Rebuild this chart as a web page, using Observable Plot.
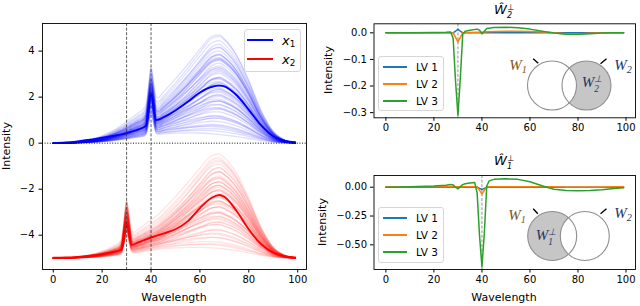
<!DOCTYPE html>
<html><head><meta charset="utf-8">
<script src="https://cdn.jsdelivr.net/npm/d3@7"></script>
<script src="https://cdn.jsdelivr.net/npm/@observablehq/plot@0.6"></script>
<style>
html,body{margin:0;padding:0;background:#fff;}
#fig{position:relative;width:640px;height:306px;overflow:hidden;font-family:"DejaVu Sans",sans-serif;color:#000;background:#fff;}
.pane{position:absolute;}
.pane svg{display:block;overflow:visible;}
.t{position:absolute;white-space:nowrap;line-height:1;transform:translate(-50%,-50%);}
.rot{transform:translate(-50%,-50%) rotate(-90deg);}
.ax{font-size:11px;}
.math{font-family:"DejaVu Sans",sans-serif;font-style:italic;}
.venn{font-family:"Liberation Serif",serif;font-style:italic;font-size:15px;}
.ss{display:inline-block;vertical-align:-0.5em;line-height:1.02;font-size:62%;text-align:left;}
.ss span{display:block;}
sub.s{font-size:68%;vertical-align:-0.3em;line-height:0;}
.lgbox{position:absolute;box-sizing:border-box;border:1px solid #d6d6d6;border-radius:3px;background:rgba(255,255,255,0.85);}
.lgline{position:absolute;height:2px;}
.lglab{position:absolute;white-space:nowrap;line-height:1;transform:translateY(-50%);}
</style></head><body><div id="fig"></div>
<script>
// ---------- data: left panel (spectra as loadings on two broad bands + a sharp band) ----------
const G = [0,5,10,15,20,25,27,28,29,30,31,32,33,35,37,38,39,40,41,42,43,45,50,55,60,65,68,70,75,80,85,90,95,99];
const shapeA = [0,0.01,0.03,0.07,0.14,0.25,0.31,0.34,0.37,0.41,0.44,0.48,0.51,0.58,0.65,0.69,0.72,0.76,0.79,0.82,0.85,0.9,0.97,1.0,0.98,0.9,0.83,0.78,0.63,0.45,0.25,0.1,0.03,0.01];
const shapeB = [0,0,0,0,0,0,0,0,0,0,0,0,0,0,0,0,0,0,0,0.005,0.01,0.05,0.2,0.4,0.65,0.92,1.0,0.98,0.85,0.6,0.3,0.1,0.02,0];
const spike30 = [0,0,0,0,0,0,0,0.08,0.55,1,0.55,0.08,0,0,0,0,0,0,0,0,0,0,0,0,0,0,0,0,0,0,0,0,0,0];
const spike40 = [0,0,0,0,0,0,0,0,0,0,0,0,0,0,0,0.08,0.55,1,0.55,0.08,0,0,0,0,0,0,0,0,0,0,0,0,0,0];

const blueA = [0.45,0.5,0.55,0.6,0.6,0.65,0.7,0.7,0.75,0.8, 0.8,0.85,0.85,0.9,0.9,0.95,0.95,1.0,1.0,1.0, 1.05,1.05,1.1,1.1,1.1,1.15,1.15,1.2,1.2,1.25, 1.25,1.3,1.3,1.35,1.4,1.4,1.45,1.5,1.5,1.55, 1.6,1.6,1.6,1.65,1.7,1.75,1.8,1.9,2.0,2.1, 2.3,0.5,0.6,0.7,0.9,1.0,1.2,1.3,0.8,1.1];
const blueB = [0.0,0.1,0.3,0.2,0.6,0.4,0.9,0.5,1.2,0.7, 1.0,1.4,0.8,1.1,1.6,1.3,0.9,1.8,1.5,1.2, 2.0,1.4,1.7,2.2,1.3,1.9,1.6,2.3,1.8,2.0, 1.5,2.4,2.1,1.7,2.5,2.2,2.4,2.6,2.0,2.4, 2.4,2.5,2.3,2.5,2.6,2.7,2.8,2.6,2.8,2.9, 2.8,0.2,0.3,0.6,0.8,1.0,1.4,1.6,0.5,1.0];
const blueSpike = [1.0,1.3,0.9,1.6,1.2,1.8,1.1,1.4,1.5,0.8, 1.7,1.3,1.0,1.9,1.4,1.2,1.6,1.1,1.5,1.3, 1.8,0.9,1.4,1.7,1.2,1.5,1.0,1.6,1.3,1.9, 1.1,1.4,1.7,1.2,1.5,1.8,1.0,1.6,1.3,1.4, 1.7,1.1,1.5,1.9,1.2,1.6,1.4,1.3,1.8,1.5, 1.5,0.9,1.2,1.4,1.1,1.6,1.3,1.5,1.0,1.4];

const redOffset = -5;
const redA = [0.45,0.5,0.55,0.6,0.65,0.7,0.7,0.75,0.8,0.8, 0.85,0.9,0.9,0.95,0.95,1.0,1.0,1.0,1.05,1.05, 1.1,1.1,1.15,1.15,1.2,1.2,1.25,1.25,1.3,1.3, 1.35,1.4,1.4,1.45,1.5,1.5,1.55,1.6,1.65,1.7, 1.8,1.9,2.0,2.2,0.6,0.7,0.8,0.9,1.0,1.1, 1.2,1.3,1.4,0.75,0.95,1.05,1.15,1.25,1.35,1.6];
const redB = [0.05,0.2,0.1,0.4,0.7,0.3,1.0,0.6,1.3,0.9, 1.1,1.5,0.7,1.2,1.7,1.4,2.0,1.0,1.6,2.1, 1.8,1.3,2.2,1.7,2.0,1.5,2.3,1.9,2.1,2.5, 1.8,2.3,2.6,2.1,2.5,2.7,2.2,2.6,2.4,2.8, 2.6,2.7,2.7,2.7,0.2,0.5,0.8,1.0,1.2,1.5, 1.7,2.0,2.0,0.4,0.9,1.1,1.4,1.6,2.2,2.2];
const redSpike = [1.1,0.9,1.4,0.8,1.2,1.6,1.0,1.5,1.2,1.3, 0.9,1.7,1.1,1.4,1.6,1.0,1.3,1.2,1.5,1.8, 1.1,1.4,1.6,1.2,1.3,1.7,1.0,1.5,1.4,1.2, 1.6,1.3,1.8,1.1,1.5,1.7,1.4,1.6,1.3,1.8, 1.5,1.7,1.6,1.6,0.8,1.0,0.9,1.2,1.3,1.1, 1.4,1.2,1.5,0.9,1.1,1.3,1.4,1.2,1.6,1.5];

const blueMeanX = [0,5,10,15,20,25,28,30,32,35,38,39,40,41,42,45,50,55,60,65,68,70,75,80,85,90,95,99];
const blueMean  = [0.0,0.03,0.08,0.15,0.24,0.32,0.38,0.43,0.5,0.6,0.76,1.4,2.15,1.55,1.0,1.12,1.42,1.8,2.2,2.45,2.5,2.47,2.08,1.45,0.78,0.3,0.1,0.04];
const redMeanX = [0,5,10,15,20,25,28,29,30,31,32,35,40,45,50,55,60,65,68,70,75,80,85,90,95,99];
const redMean  = [-4.98,-4.97,-4.94,-4.89,-4.82,-4.72,-4.62,-4.2,-3.48,-4.0,-4.42,-4.3,-4.1,-3.93,-3.74,-3.4,-2.82,-2.36,-2.25,-2.33,-2.95,-3.75,-4.38,-4.76,-4.92,-4.97];
const markLines = [30, 40];

const xTicks = [0,20,40,60,80,100];
const leftYTicks = [-4,-2,0,2,4];

// ---------- data: right panels ----------
const topX   = [0,10,20,25,27,28,29,30,31,32,33,35,38,39,40,41,42,45,50,55,60,65,70,75,80,85,90,95,99];
const topLV1 = [0,0,0,0,0,0,0.006,0.013,0.006,0,0,0,0,0,0,0,0,0,0,0,0,0,0,0,0,0,0,0,0];
const topLV2 = [0,0,0,0,0,0,-0.017,-0.034,-0.017,0,0,0.001,0.002,0.002,0.002,0.003,0.004,0.005,0.006,0.006,0.005,0.003,0,-0.003,-0.004,-0.002,0,0,0];
const topLV3 = [0,0,0.001,0.002,0.003,-0.02,-0.18,-0.31,-0.17,-0.005,0.006,0.01,0.014,0.01,-0.004,0.006,0.016,0.02,0.021,0.019,0.014,0.006,-0.001,-0.005,-0.005,-0.003,-0.001,0,0];
const topYTicks = [0,-0.1,-0.2,-0.3];

const botX   = [0,10,20,25,27,28,29,30,31,32,33,35,37,38,39,40,41,42,43,45,50,55,60,65,70,75,80,85,90,95,99];
const botLV1 = [0,0,0,0,0,0,0,0,0,0,0,0,0,0,-0.01,-0.02,-0.01,0,0,0,0,0,0,0,0,0,0,0,0,0,0];
const botLV2 = [0.004,0.004,0.004,0.004,0.004,0.004,0.004,0.004,0.004,0.004,0.004,0.004,0.004,0.004,-0.027,-0.058,-0.027,0.004,0.004,0.005,0.005,0.005,0.004,0.004,0.003,0.002,0.002,0.002,0.002,0.003,0.003];
const botLV3 = [0,0.003,0.01,0.018,0.024,0.02,0.0,-0.014,0.005,0.022,0.03,0.036,0.04,-0.05,-0.42,-0.69,-0.4,0.01,0.055,0.068,0.073,0.068,0.047,0.012,-0.018,-0.028,-0.03,-0.029,-0.022,-0.012,-0.005];
const botYTicks = [0,-0.25,-0.5];

const lvNames = ["LV 1","LV 2","LV 3"];
const lvColors = ["#1f77b4","#ff7f0e","#2ca02c"];

// ---------- build ----------
const fig = document.getElementById("fig");
const baseStyle = {fontFamily:"DejaVu Sans", fontSize:"10px", color:"black", background:"transparent", overflow:"visible"};

function family(A, B, S, spike, offset){
  const rows = [];
  A.forEach((a,i) => G.forEach((x,j) => rows.push({id:i, x, y: offset + a*shapeA[j] + B[i]*shapeB[j] + S[i]*spike[j]})));
  return rows;
}
const zip = (xs, ys) => xs.map((x,i) => ({x, y: ys[i]}));

function addPane(svg, left, topPx){
  const d = document.createElement("div"); d.className = "pane";
  d.style.left = left+"px"; d.style.top = topPx+"px";
  d.appendChild(svg); fig.appendChild(d);
}
function addText(html, cx, cy, cls, style){
  const d = document.createElement("div"); d.className = "t " + (cls||"");
  d.innerHTML = html; d.style.left = cx+"px"; d.style.top = cy+"px";
  Object.assign(d.style, style||{}); fig.appendChild(d);
}
function legend(box, entries, lx0, lx1, labX, fontCss){
  const b = document.createElement("div"); b.className = "lgbox";
  Object.assign(b.style, {left:box[0]+"px", top:box[1]+"px", width:box[2]+"px", height:box[3]+"px"});
  fig.appendChild(b);
  entries.forEach(e => {
    const l = document.createElement("div"); l.className = "lgline";
    Object.assign(l.style, {left:lx0+"px", width:(lx1-lx0)+"px", top:Math.round(e.y-1)+"px", background:e.color});
    fig.appendChild(l);
    const t = document.createElement("div"); t.className = "lglab";
    t.innerHTML = e.html; Object.assign(t.style, {left:labX+"px", top:e.y+"px"}, fontCss||{});
    fig.appendChild(t);
  });
}

// ----- left panel -----
const L = {w:320, h:306, mL:42, mR:14, mT:23, mB:37};
const leftPlot = Plot.plot({
  width:L.w, height:L.h, marginLeft:L.mL, marginRight:L.mR, marginTop:L.mT, marginBottom:L.mB,
  style: baseStyle,
  x: {domain:[-4.4,103.6], ticks:xTicks, tickFormat:d3.format("d"), tickSize:3.5, tickPadding:3, label:null},
  y: {domain:[-5.49,5.2], ticks:leftYTicks, tickFormat:d3.format("d"), tickSize:3.5, tickPadding:4.5, label:null},
  marks: [
    Plot.line(family(blueA, blueB, blueSpike, spike40, 0), {x:"x", y:"y", z:"id", stroke:"#0000ff", strokeOpacity:0.13, strokeWidth:1.3, curve:"monotone-x"}),
    Plot.line(family(redA, redB, redSpike, spike30, redOffset), {x:"x", y:"y", z:"id", stroke:"#ff0000", strokeOpacity:0.11, strokeWidth:1.3, curve:"monotone-x"}),
    Plot.line(zip(blueMeanX, blueMean), {x:"x", y:"y", stroke:"#0000ff", strokeWidth:1.9, curve:"monotone-x"}),
    Plot.line(zip(redMeanX, redMean), {x:"x", y:"y", stroke:"#ff0000", strokeWidth:1.9, curve:"monotone-x"}),
    Plot.ruleX(markLines, {stroke:"#333", strokeWidth:0.8, strokeDasharray:"3,1.6"}),
    Plot.ruleY([0], {stroke:"#111", strokeWidth:1, strokeDasharray:"1,1.6"}),
    Plot.frame({stroke:"black", strokeWidth:0.9})
  ]
});
addPane(leftPlot, 0, 0);

// ----- right panels -----
function pxMap(f){
  return {
    x: px => f.xd[0] + (px - f.x0)/(f.x1 - f.x0)*(f.xd[1]-f.xd[0]),
    y: py => f.yd[1] - (py - f.y0)/(f.y1 - f.y0)*(f.yd[1]-f.yd[0])
  };
}
function vennMarks(m, shaded, other, r, ticks){
  return [
    Plot.dot([shaded], {x:d=>m.x(d[0]), y:d=>m.y(d[1]), r, fill:"#c6c6c6", stroke:"none"}),
    Plot.dot([other], {x:d=>m.x(d[0]), y:d=>m.y(d[1]), r, fill:"white", stroke:"none"}),
    Plot.dot([shaded, other], {x:d=>m.x(d[0]), y:d=>m.y(d[1]), r, fill:"none", stroke:"#8e8e8e", strokeWidth:1.1}),
    Plot.link(ticks, {x1:d=>m.x(d[0]), y1:d=>m.y(d[1]), x2:d=>m.x(d[2]), y2:d=>m.y(d[3]), stroke:"black", strokeWidth:1.4})
  ];
}
function rightPanel(cfg){
  const m = pxMap(cfg.f);
  const rows = [];
  cfg.lvs.forEach((arr,k) => arr.forEach((v,i) => rows.push({x:cfg.xs[i], y:v, lv:lvNames[k]})));
  return Plot.plot({
    width:320, height:cfg.h, marginLeft:cfg.f.x0-320, marginRight:640-cfg.f.x1, marginTop:cfg.f.y0-cfg.y0, marginBottom:cfg.y0+cfg.h-cfg.f.y1,
    style: baseStyle,
    x: {domain:cfg.f.xd, ticks:xTicks, tickFormat:d3.format("d"), tickSize:3.5, tickPadding:3, label:null},
    y: {domain:cfg.f.yd, ticks:cfg.yticks, tickFormat:d3.format(cfg.fmt), tickSize:3.5, tickPadding:3.5, label:null},
    color: {domain:lvNames, range:lvColors},
    marks: [
      ...vennMarks(m, cfg.shaded, cfg.other, 24.5, cfg.ticks),
      Plot.ruleX([cfg.mark], {stroke:"#777", strokeWidth:0.8, strokeDasharray:"3,1.6"}),
      Plot.line(rows, {x:"x", y:"y", z:"lv", stroke:"lv", strokeWidth:1.5}),
      Plot.frame({stroke:"black", strokeWidth:0.9})
    ]
  });
}
const topPlot = rightPanel({
  y0:0, h:150, xs:topX, lvs:[topLV1, topLV2, topLV3], yticks:topYTicks, fmt:".1f", mark:30,
  f:{x0:373.5, x1:635, y0:23.3, y1:117.3, xd:[-4.95,103.95], yd:[-0.3195,0.034]},
  shaded:[586,85], other:[551.5,85],
  ticks:[[532.7,58.3,537.7,62.7],[600,63.3,606,58.3]]
});
addPane(topPlot, 320, 0);
const botPlot = rightPanel({
  y0:150, h:156, xs:botX, lvs:[botLV1, botLV2, botLV3], yticks:botYTicks, fmt:".2f", mark:40,
  f:{x0:373.5, x1:635, y0:175, y1:269, xd:[-4.95,103.95], yd:[-0.714,0.1016]},
  shaded:[551.7,235.5], other:[584.3,235.5],
  ticks:[[532.7,208.3,537.3,213.3],[600,213.3,606,208.3]]
});
addPane(botPlot, 320, 150);

// ----- text: axis labels, titles, legends, venn labels -----
addText("Intensity", 6, 146, "rot ax");
addText("Wavelength", 174, 297, "ax");
addText("Intensity", 327.5, 70.3, "rot ax");
addText("Intensity", 322, 222, "rot ax");
addText("Wavelength", 504, 297, "ax");
addText('<span class="math">Ŵ</span><span class="ss math"><span>⊥</span><span>2</span></span>', 504, 12, "", {fontSize:"13px"});
addText('<span class="math">Ŵ</span><span class="ss math"><span>⊥</span><span>1</span></span>', 504, 163, "", {fontSize:"13px"});

legend([244,29,57,43], [
  {y:40, color:"#0000ff", html:'<span class="math">x</span><sub class="s">1</sub>'},
  {y:59, color:"#ff0000", html:'<span class="math">x</span><sub class="s">2</sub>'}
], 247, 273, 282, {fontSize:"13px"});
legend([378,56,66,55], lvNames.map((n,i)=>({y:[67,84,100.5][i], color:lvColors[i], html:n})), 382.7, 406.7, 416, {fontSize:"10.5px"});
legend([378,207,66,56], lvNames.map((n,i)=>({y:[218,235,251.5][i], color:lvColors[i], html:n})), 382.7, 406.7, 416, {fontSize:"10.5px"});

const W1c = "#7d5520", W2c = "#1f3468";
addText('W<sub class="s">1</sub>', 518, 65, "venn", {color:W1c});
addText('W<sub class="s">2</sub>', 623, 65, "venn", {color:W2c});
addText('W<span class="ss"><span>⊥</span><span>2</span></span>', 592, 85, "venn", {color:W2c});
addText('W<sub class="s">1</sub>', 517, 215, "venn", {color:W1c});
addText('W<sub class="s">2</sub>', 623, 213, "venn", {color:W2c});
addText('W<span class="ss"><span>⊥</span><span>1</span></span>', 546, 238, "venn", {color:W2c});
</script></body></html>
